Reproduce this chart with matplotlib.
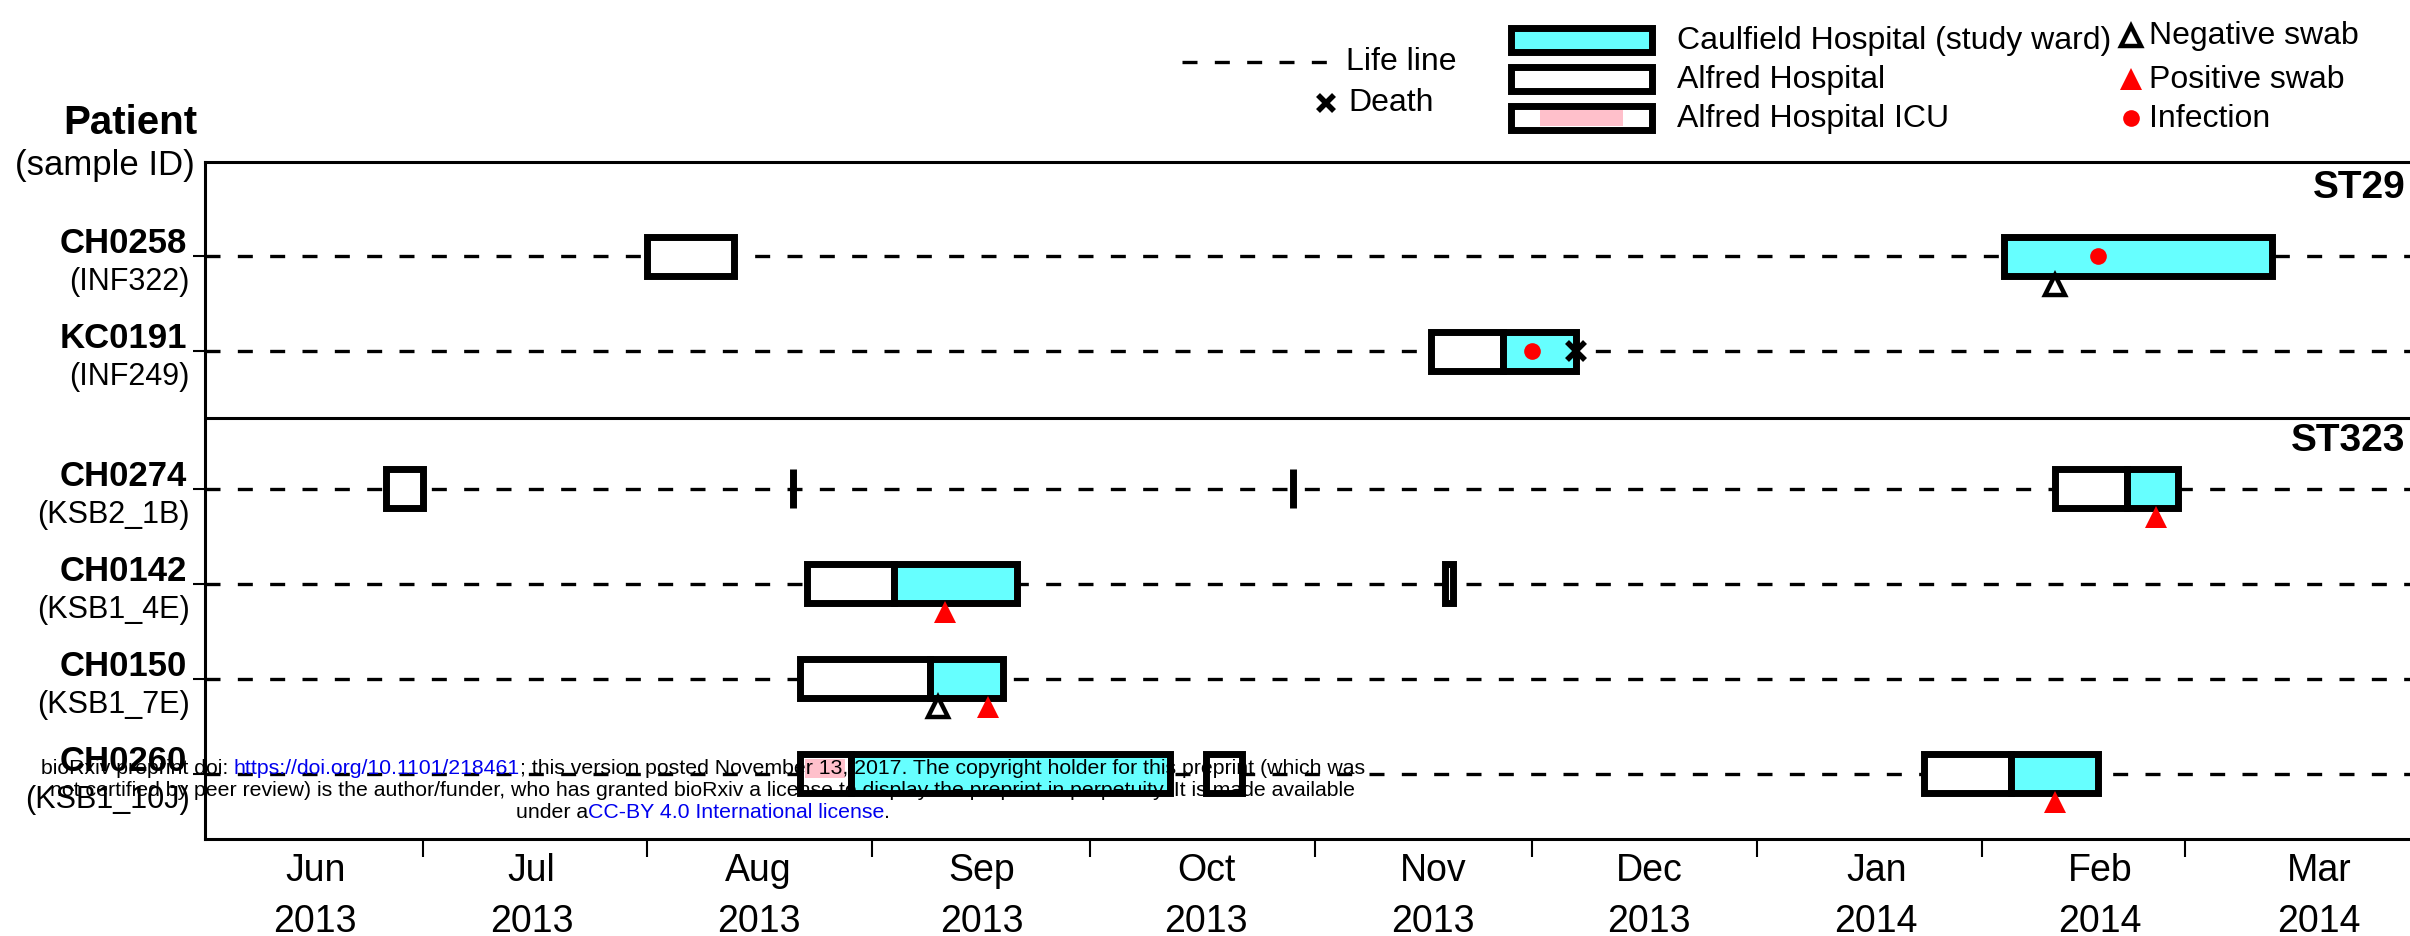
import matplotlib
matplotlib.use('Agg')
import matplotlib.pyplot as plt
import matplotlib.dates as mdates
from matplotlib.patches import Rectangle
from matplotlib.transforms import blended_transform_factory
import pandas as pd

plt.rcParams['font.family'] = ['Liberation Sans', 'DejaVu Sans']

# ---- data ----
patients = ['CH0258', 'KC0191', 'CH0274', 'CH0142', 'CH0150', 'CH0260']
sample_ids = ['INF322', 'INF249', 'KSB2_1B', 'KSB1_4E', 'KSB1_7E', 'KSB1_10J']

stay_patient = ['CH0258', 'CH0258',
                'KC0191', 'KC0191',
                'CH0274', 'CH0274', 'CH0274', 'CH0274', 'CH0274',
                'CH0142', 'CH0142', 'CH0142',
                'CH0150', 'CH0150',
                'CH0260', 'CH0260', 'CH0260', 'CH0260', 'CH0260']
stay_ward = ['Alfred', 'Caulfield',
             'Alfred', 'Caulfield',
             'Alfred', 'Alfred', 'Alfred', 'Alfred', 'Caulfield',
             'Alfred', 'Caulfield', 'Alfred',
             'Alfred', 'Caulfield',
             'ICU', 'Caulfield', 'Alfred', 'Alfred', 'Caulfield']
stay_start = ['2013-08-01', '2014-02-04',
              '2013-11-17', '2013-11-27',
              '2013-06-26', '2013-08-21', '2013-10-29', '2014-02-11', '2014-02-21',
              '2013-08-23', '2013-09-04', '2013-11-19',
              '2013-08-22', '2013-09-09',
              '2013-08-22', '2013-08-29', '2013-10-17', '2014-01-24', '2014-02-05']
stay_end = ['2013-08-13', '2014-03-13',
            '2013-11-27', '2013-12-07',
            '2013-07-01', '2013-08-21', '2013-10-29', '2014-02-21', '2014-02-28',
            '2013-09-04', '2013-09-21', '2013-11-20',
            '2013-09-09', '2013-09-19',
            '2013-08-29', '2013-10-12', '2013-10-22', '2014-02-05', '2014-02-17']

neg_swab_patient = ['CH0258', 'CH0150']
neg_swab_date = ['2014-02-11', '2013-09-10']
pos_swab_patient = ['CH0274', 'CH0142', 'CH0150', 'CH0260']
pos_swab_date = ['2014-02-25', '2013-09-11', '2013-09-17', '2014-02-11']
infection_patient = ['CH0258', 'KC0191']
infection_date = ['2014-02-17', '2013-12-01']
death_patient = ['KC0191']
death_date = ['2013-12-07']

month_labels = ['Jun\n2013', 'Jul\n2013', 'Aug\n2013', 'Sep\n2013', 'Oct\n2013',
                'Nov\n2013', 'Dec\n2013', 'Jan\n2014', 'Feb\n2014', 'Mar\n2014']

# ---- layout ----
row_y = [0, 1, 2.45, 3.45, 4.45, 5.45]
sep_y = 1.7
box_h = 0.41
swab_off = 0.3
label_day = [15.2, 15.0, 15.3, 15.1, 16.0, 16.3, 16.1, 16.4, 16.3, 18.5]
ward_colors = {'Caulfield': '#66ffff', 'Alfred': 'white', 'ICU': 'white'}
pink = '#ffc0cb'
dash = (0, (4.5, 5.2))
row_of = dict(zip(patients, row_y))

W, H = 2410, 936
fig = plt.figure(figsize=(W / 100, H / 100), dpi=100)
ax = fig.add_axes([205 / W, 1 - 839 / H, 1 - 205 / W, (839 - 162) / H])

for y in row_y:
    ax.axhline(y, color='black', lw=2.4, ls=dash, zorder=1)
ax.axhline(sep_y, color='black', lw=2.2, zorder=2)

for p, w, s, e in zip(stay_patient, stay_ward, stay_start, stay_end):
    x0 = mdates.date2num(pd.Timestamp(s))
    x1 = mdates.date2num(pd.Timestamp(e))
    y = row_of[p]
    ax.add_patch(Rectangle((x0, y - box_h / 2), x1 - x0, box_h, facecolor=ward_colors[w],
                           edgecolor='black', lw=5, joinstyle='miter', zorder=3))
    if w == 'ICU':
        ax.add_patch(Rectangle((x0 + 0.7, y - 0.15), x1 - x0 - 1.4, 0.19,
                               facecolor=pink, lw=0, zorder=3.5))


def dates_rows(pats, dates, off=0.0):
    return ([mdates.date2num(pd.Timestamp(d)) for d in dates], [row_of[p] + off for p in pats])


x, y = dates_rows(neg_swab_patient, neg_swab_date, swab_off)
ax.plot(x, y, ls='none', marker='^', ms=14, mfc='white', mec='black', mew=3.2, zorder=5)
x, y = dates_rows(pos_swab_patient, pos_swab_date, swab_off)
ax.plot(x, y, ls='none', marker='^', ms=16, mfc='red', mec='red', mew=0, zorder=5)
x, y = dates_rows(infection_patient, infection_date)
ax.plot(x, y, ls='none', marker='o', ms=12, mfc='red', mec='red', mew=0, zorder=5)
x, y = dates_rows(death_patient, death_date)
ax.plot(x, y, ls='none', marker='x', ms=13, mec='black', mew=4, zorder=5)

ax.set_xlim(mdates.date2num(pd.Timestamp('2013-06-01')), mdates.date2num(pd.Timestamp('2014-04-01')))
ax.set_ylim(6.137, -0.99)

month_starts = pd.date_range('2013-07-01', '2014-03-01', freq='MS')
ax.set_xticks(mdates.date2num(month_starts))
ax.set_xticklabels([])
ax.tick_params(axis='x', which='major', length=13, width=1.5)

# month labels drawn as text so the line spacing can be set
xtr = blended_transform_factory(ax.transData, ax.transAxes)
for start, lab, dd in zip(pd.date_range('2013-06-01', '2014-03-01', freq='MS'), month_labels, label_day):
    ax.text(mdates.date2num(start) + dd, -0.020, lab, transform=xtr, ha='center', va='top',
            fontsize=27, linespacing=1.55, clip_on=False)

ax.set_yticks(row_y)
ax.set_yticklabels([])
ax.tick_params(axis='y', length=9, width=1.5)

for side in ['left', 'top', 'bottom']:
    ax.spines[side].set_linewidth(2.2)
ax.spines['right'].set_visible(False)

# patient labels
tr = blended_transform_factory(ax.transAxes, ax.transData)
for p, sid, y in zip(patients, sample_ids, row_y):
    ax.annotate(p, xy=(0, y), xycoords=tr, xytext=(-13, 9), textcoords='offset points',
                ha='right', va='center', fontsize=25, fontweight='bold')
    ax.annotate('(' + sid + ')', xy=(0, y), xycoords=tr, xytext=(-11, -19), textcoords='offset points',
                ha='right', va='center', fontsize=22)

ax.text(0.998, 0.962, 'ST29', transform=ax.transAxes, ha='right', va='center', fontsize=28, fontweight='bold')
ax.text(0.998, 0.588, 'ST323', transform=ax.transAxes, ha='right', va='center', fontsize=28, fontweight='bold')

# ---- overlay in pixel coordinates: headers, legend, watermark ----
ov = fig.add_axes([0, 0, 1, 1])
ov.set_xlim(0, W)
ov.set_ylim(H, 0)
ov.axis('off')

ov.text(197, 123, 'Patient', ha='right', va='center', fontsize=29, fontweight='bold')
ov.text(195, 165, '(sample ID)', ha='right', va='center', fontsize=25)

leg_fs = 23
ov.plot([1182, 1330], [62, 62], color='black', lw=2.4, ls=dash)
ov.text(1346, 62, 'Life line', ha='left', va='center', fontsize=leg_fs)
ov.plot([1326], [103], ls='none', marker='x', ms=11, mec='black', mew=4)
ov.text(1348, 103, 'Death', ha='left', va='center', fontsize=leg_fs)

box_items = [('Caulfield', 'Caulfield Hospital (study ward)', 40),
             ('Alfred', 'Alfred Hospital', 79),
             ('ICU', 'Alfred Hospital ICU', 118)]
for ward, label, yc in box_items:
    ov.add_patch(Rectangle((1511, yc - 12), 141, 24, facecolor=ward_colors[ward],
                           edgecolor='black', lw=5, joinstyle='miter'))
    if ward == 'ICU':
        ov.add_patch(Rectangle((1540, yc - 8), 83, 16, facecolor=pink, lw=0))
    ov.text(1677, yc + 1, label, ha='left', va='center', fontsize=leg_fs)

ov.plot([2131], [36], ls='none', marker='^', ms=14, mfc='white', mec='black', mew=3.2)
ov.text(2149, 36, 'Negative swab', ha='left', va='center', fontsize=leg_fs)
ov.plot([2131], [79], ls='none', marker='^', ms=16, mfc='red', mec='red', mew=0)
ov.text(2149, 80, 'Positive swab', ha='left', va='center', fontsize=leg_fs)
ov.plot([2131], [118], ls='none', marker='o', ms=12, mfc='red', mec='red', mew=0)
ov.text(2149, 119, 'Infection', ha='left', va='center', fontsize=leg_fs)

# bioRxiv watermark, with blue links
blue = '#0000ee'
wm_fs = 15.3
wm_lines = [
    [('bioRxiv preprint doi: ', 'black'), ('https://doi.org/10.1101/218461', blue),
     ('; this version posted November 13, 2017. The copyright holder for this preprint (which was', 'black')],
    [('not certified by peer review) is the author/funder, who has granted bioRxiv a license to display the preprint in perpetuity. It is made available', 'black')],
    [('under a', 'black'), ('CC-BY 4.0 International license', blue), ('.', 'black')],
]
wm_y = [768, 791, 813]
wm_xc = 703
renderer = fig.canvas.get_renderer()


def text_w(s):
    t = ov.text(0, 0, s, fontsize=wm_fs)
    w = t.get_window_extent(renderer).width
    t.remove()
    return w


bar_w = text_w('|')
for pieces, yc in zip(wm_lines, wm_y):
    full = ''.join(s for s, c in pieces)
    x_left = wm_xc - text_w(full) / 2
    prefix = ''
    for s, c in pieces:
        off = (text_w(prefix + '|') - bar_w) if prefix else 0
        ov.text(x_left + off, yc, s, ha='left', va='center', fontsize=wm_fs, color=c, zorder=10)
        prefix += s

fig.savefig('out.png', dpi=100)
